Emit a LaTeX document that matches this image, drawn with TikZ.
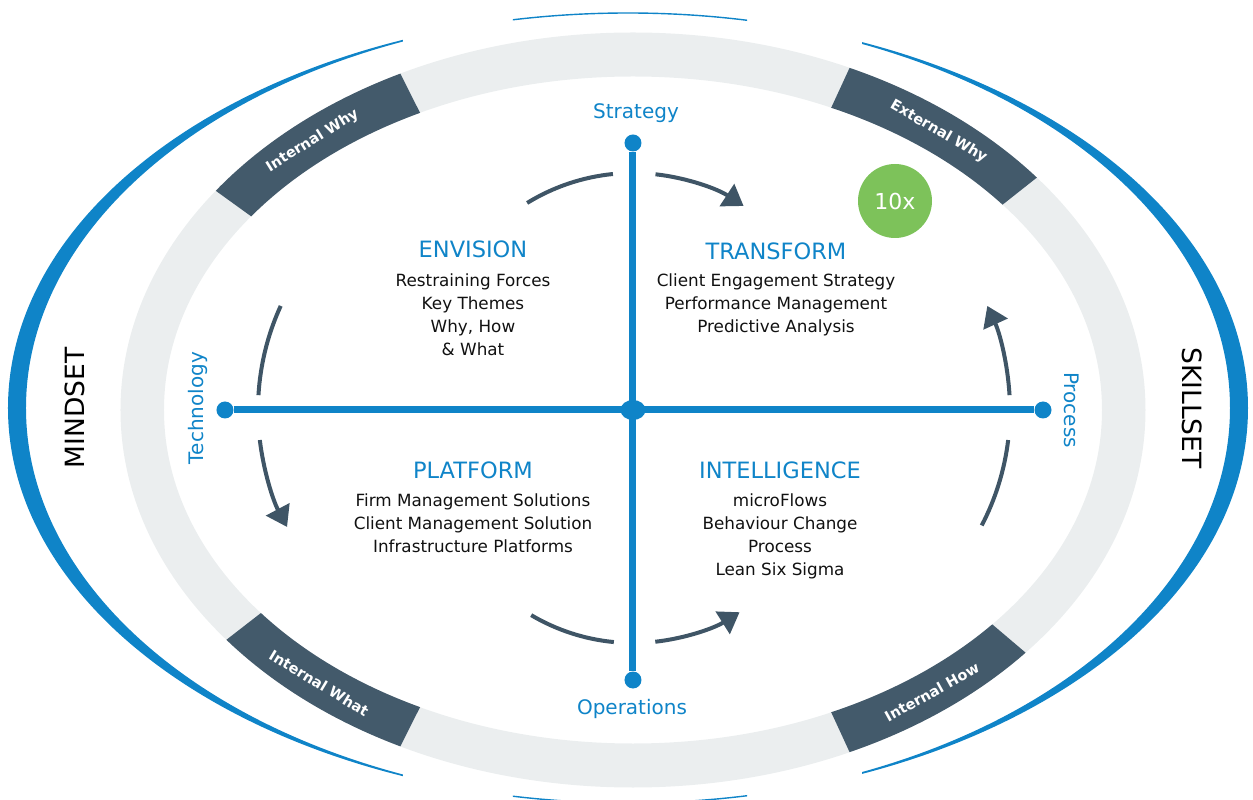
\documentclass[tikz,border=0pt]{standalone}
\usepackage{fontspec}
\setmainfont{DejaVu Sans}
\usetikzlibrary{arrows.meta,shapes.geometric}
\definecolor{axisblue}{HTML}{0F84C8}
\definecolor{tabslate}{HTML}{435A6B}
\definecolor{arrowslate}{HTML}{3F5566}
\definecolor{ringgray}{HTML}{EBEEEF}
\definecolor{tengreen}{HTML}{7DC25A}
\definecolor{bodyblack}{HTML}{111111}
\tikzset{
  tabtext/.style={text=white, inner sep=1pt, font=\bfseries\fontsize{14.5}{15}\selectfont},
  axislabel/.style={text=axisblue, font=\fontsize{20}{22}\selectfont},
  quadtitle/.style={text=axisblue, font=\fontsize{22.5}{24}\selectfont},
  quadbody/.style={text=bodyblack, align=center, font=\fontsize{16.8}{23}\selectfont},
  sidelabel/.style={text=black, font=\fontsize{26.5}{28}\selectfont},
  enddot/.style={circle, fill=axisblue, inner sep=0pt, minimum size=17pt},
  axisline/.style={draw=axisblue, line width=7pt},
  cycarc/.style={draw=arrowslate, line width=4pt},
  cyctip/.style={-{Triangle[length=20pt,width=26pt]}},
  tabfill/.style={fill=tabslate},
}
\begin{document}
\begin{tikzpicture}[x=1pt,y=1pt]
\useasboundingbox (-633,-390) rectangle (620,410);
% gray ring
\fill[ringgray, even odd rule] (0,0) ellipse [x radius=512.5, y radius=377.5]
  (0,0) ellipse [x radius=469, y radius=333.5];
% dark tabs
\foreach \ta/\tb in {117/144.5, 38/65, 217.5/243, 295/320}{
  \fill[tabfill] ({512.5*cos(\ta)},{377.5*sin(\ta)})
    arc[start angle=\ta, end angle=\tb, x radius=512.5, y radius=377.5]
    -- ({469*cos(\tb)},{333.5*sin(\tb)})
    arc[start angle=\tb, end angle=\ta, x radius=469, y radius=333.5] -- cycle;
}
% blue crescents
\begin{scope}
  \clip (-640,-400) rectangle (-230,420);
  \fill[axisblue, even odd rule] (-5,2) ellipse [x radius=620, y radius=395]
    (-5,2) ellipse [x radius=602, y radius=395];
\end{scope}
\begin{scope}
  \clip (229,-400) rectangle (640,420);
  \fill[axisblue, even odd rule] (-5,2) ellipse [x radius=620, y radius=395]
    (-5,2) ellipse [x radius=602, y radius=395];
\end{scope}
\begin{scope}
  \clip (-120,-400) rectangle (114,420);
  \draw[axisblue, line width=1.4pt] (-5,2) ellipse [x radius=620, y radius=395];
\end{scope}
% cycle arrows
\draw[cycarc] ({202*cos(121.6)},{35+202*sin(121.6)}) arc[start angle=121.6, end angle=95.7, radius=202];
\draw[cycarc, cyctip] ({202*cos(83.6)},{35+202*sin(83.6)}) arc[start angle=83.6, end angle=56.8, radius=202];
\draw[cycarc] ({200*cos(239.4)},{-33+200*sin(239.4)}) arc[start angle=239.4, end angle=264.5, radius=200];
\draw[cycarc, cyctip] ({200*cos(276.4)},{-33+200*sin(276.4)}) arc[start angle=276.4, end angle=302.2, radius=200];
\draw[cycarc] ({-125+250*cos(155.4)},{250*sin(155.4)}) arc[start angle=155.4, end angle=176.6, radius=250];
\draw[cycarc, cyctip] ({-125+250*cos(186.9)},{250*sin(186.9)}) arc[start angle=186.9, end angle=207.9, radius=250];
\draw[cycarc] ({127+250*cos(-27.5)},{250*sin(-27.5)}) arc[start angle=-27.5, end angle=-6.9, radius=250];
\draw[cycarc, cyctip] ({127+250*cos(3.4)},{250*sin(3.4)}) arc[start angle=3.4, end angle=24.6, radius=250];
% axes
\node[enddot] (strat) at (0,267) {};
\node[enddot] (oper) at (0,-270) {};
\node[enddot] (tech) at (-408,0) {};
\node[enddot] (proc) at (410,0) {};
\draw[axisline] (tech) -- (proc);
\draw[axisline] (strat) -- (oper);
\node[ellipse, fill=axisblue, inner sep=0pt, minimum width=25pt, minimum height=20pt] (hub) at (0,0) {};
% axis labels
\node[axislabel] (lstrat) at (3,297) {Strategy};
\node[axislabel] (loper) at (-1,-299) {Operations};
\node[axislabel, rotate=90] (ltech) at (-435,2) {Technology};
\node[axislabel, rotate=-90] (lproc) at (439,0) {Process};
% side labels
\node[sidelabel, rotate=90] (mind) at (-558,2) {MINDSET};
\node[sidelabel, rotate=-90] (skill) at (559,2) {SKILLSET};
% tab labels
\node[tabtext, rotate=32] (iwhy) at ({491*cos(130.75)},{355.5*sin(130.75)}) {Internal Why};
\node[tabtext, rotate=-30] (ewhy) at ({491*cos(51.5)},{355.5*sin(51.5)}) {External Why};
\node[tabtext, rotate=-31] (iwhat) at ({491*cos(230.25)},{355.5*sin(230.25)}) {Internal What};
\node[tabtext, rotate=29] (ihow) at ({491*cos(307.5)},{355.5*sin(307.5)}) {Internal How};
% quadrants
\node[quadtitle] (envt) at (-160,161) {ENVISION};
\node[quadbody] (envb) at (-160,95) {Restraining Forces\\Key Themes\\Why, How\\\& What};
\node[quadtitle] (trat) at (143,159) {TRANSFORM};
\node[quadbody] (trab) at (143,105) {Client Engagement Strategy\\Performance Management\\Predictive Analysis};
\node[quadtitle] (plat) at (-160,-60) {PLATFORM};
\node[quadbody] (plab) at (-160,-113) {Firm Management Solutions\\Client Management Solution\\Infrastructure Platforms};
\node[quadtitle] (intt) at (147,-60) {INTELLIGENCE};
\node[quadbody] (intb) at (147,-126.5) {microFlows\\Behaviour Change\\Process\\Lean Six Sigma};
% 10x badge
\node[circle, fill=tengreen, minimum size=74pt, inner sep=0pt, text=white, font=\fontsize{22}{23}\selectfont] (ten) at (262,209) {10x};
\end{tikzpicture}
\end{document}
